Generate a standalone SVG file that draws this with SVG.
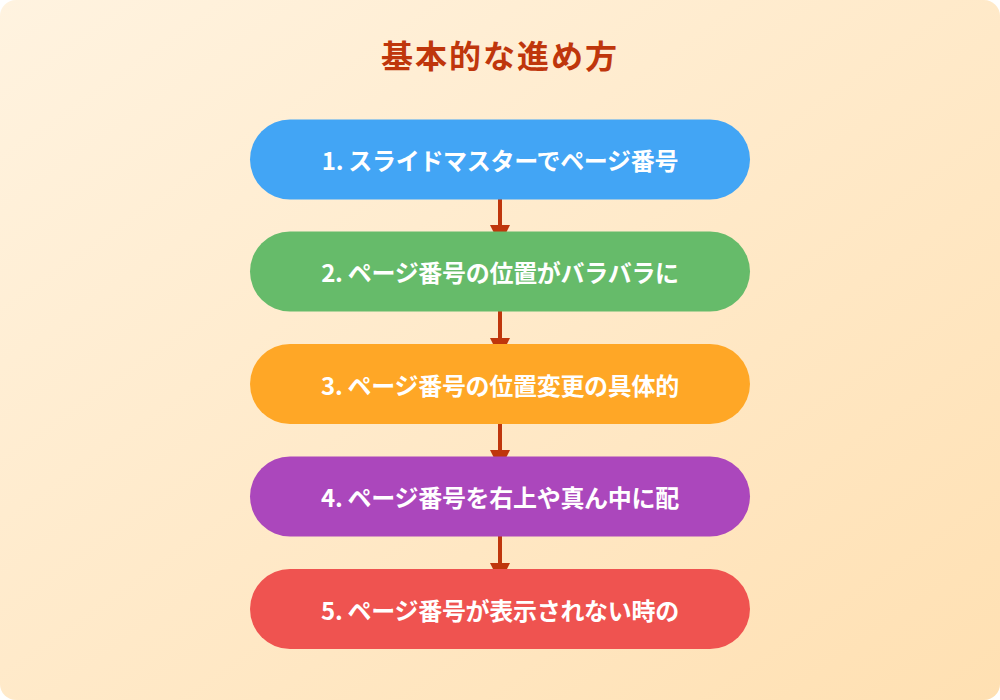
<svg xmlns="http://www.w3.org/2000/svg" width="1000" height="700" viewBox="0 0 1000 700">
<defs>
<linearGradient id="bg" x1="0" y1="0" x2="1" y2="1">
<stop offset="0" stop-color="#FFF3E0"/>
<stop offset="1" stop-color="#FFE0B2"/>
</linearGradient>
<style>
.node rect{rx:40;ry:40}
.lbl{font-family:"Noto Sans CJK JP","Noto Sans",sans-serif;font-weight:700;font-size:24px;fill:#fff;text-anchor:middle;dominant-baseline:central;letter-spacing:-0.3px}
.title{font-family:"Noto Sans CJK JP","Noto Sans",sans-serif;font-weight:700;font-size:32px;fill:#BF360C;text-anchor:middle;dominant-baseline:central;letter-spacing:2px}
.edge line{stroke:#BF360C;stroke-width:4}
.edge polygon{fill:#BF360C}
</style>
</defs>
<rect x="0" y="0" width="1000" height="700" rx="16" fill="url(#bg)"/>
<text class="title" x="500" y="54">基本的な進め方</text>
<g id="connectors" class="edge">
<line x1="500" y1="199" x2="500" y2="226"/><polygon points="490,225 510,225 500,245"/>
<line x1="500" y1="311" x2="500" y2="339"/><polygon points="490,338 510,338 500,358"/>
<line x1="500" y1="424" x2="500" y2="451"/><polygon points="490,450 510,450 500,470"/>
<line x1="500" y1="536" x2="500" y2="564"/><polygon points="490,563 510,563 500,583"/>
</g>
<g id="node1" class="node"><rect x="250" y="119.5" width="500" height="80" fill="#42A5F5"/><text class="lbl" x="500" y="159.5">1. スライドマスターでページ番号</text></g>
<g id="node2" class="node"><rect x="250" y="231.5" width="500" height="80" fill="#66BB6A"/><text class="lbl" x="500" y="271.5">2. ページ番号の位置がバラバラに</text></g>
<g id="node3" class="node"><rect x="250" y="344" width="500" height="80" fill="#FFA726"/><text class="lbl" x="500" y="384">3. ページ番号の位置変更の具体的</text></g>
<g id="node4" class="node"><rect x="250" y="456.5" width="500" height="80" fill="#AB47BC"/><text class="lbl" x="500" y="496.5">4. ページ番号を右上や真ん中に配</text></g>
<g id="node5" class="node"><rect x="250" y="569" width="500" height="80" fill="#EF5350"/><text class="lbl" x="500" y="609">5. ページ番号が表示されない時の</text></g>
</svg>
